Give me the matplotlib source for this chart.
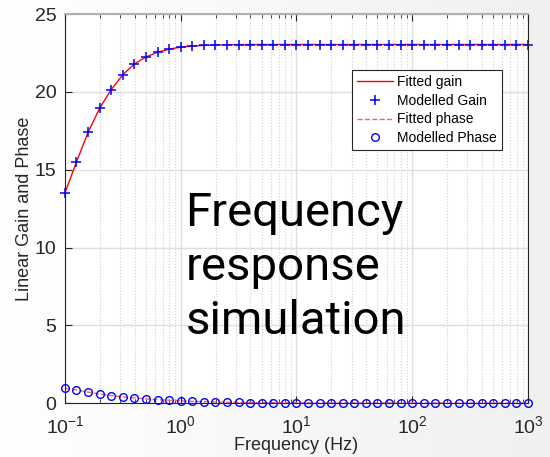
import matplotlib
matplotlib.use("Agg")
import matplotlib.pyplot as plt
import matplotlib.ticker as ticker
import numpy as np

# 41 frequencies, 10 per decade from 0.1 Hz to 1 kHz
freq = 10.0 ** (np.arange(-10, 31) / 10.0)

gain = [13.5, 15.5, 17.4, 18.95, 20.15, 21.1, 21.8, 22.25, 22.55, 22.75,
        22.88, 22.95, 22.99, 23.02, 23.03, 23.04, 23.05, 23.05, 23.05, 23.05,
        23.05, 23.05, 23.05, 23.05, 23.05, 23.05, 23.05, 23.05, 23.05, 23.05,
        23.05, 23.05, 23.05, 23.05, 23.05, 23.05, 23.05, 23.05, 23.05, 23.05,
        23.05]
phase = [0.95, 0.84, 0.70, 0.58, 0.48, 0.40, 0.33, 0.27, 0.22, 0.175,
         0.14, 0.11, 0.09, 0.07, 0.055, 0.045, 0.035, 0.028, 0.022, 0.018,
         0.014, 0.011, 0.009, 0.007, 0.0055, 0.0045, 0.0035, 0.003, 0.002, 0.0018,
         0.0014, 0.0011, 0.0009, 0.0007, 0.0006, 0.0005, 0.0004, 0.0003, 0.0002, 0.0002,
         0.0001]

plt.rcParams['font.family'] = ['Liberation Sans', 'DejaVu Sans']
plt.rcParams['mathtext.fontset'] = 'custom'
plt.rcParams['mathtext.rm'] = 'Liberation Sans'
plt.rcParams['mathtext.it'] = 'Liberation Sans'
plt.rcParams['mathtext.default'] = 'regular'

fig = plt.figure(figsize=(5.5, 4.57), dpi=100)

# light grey backdrop, white on the left fading to grey on the right
bg = fig.add_axes([0, 0, 1, 1], zorder=-10)
grad = np.linspace(0, 1, 256).reshape(1, -1)
bg.imshow(grad, aspect='auto', cmap=matplotlib.colors.LinearSegmentedColormap.from_list(
    'bg', ['#ffffff', '#f0f0f0']), extent=[0, 1, 0, 1])
bg.axis('off')

ax = fig.add_axes([0.118, 0.118, 0.842, 0.851])
ax.set_xscale('log')

ax.plot(freq, gain, '-', color='red', linewidth=1, label='Fitted gain')
ax.plot(freq, gain, '+', color='blue', markersize=7, markeredgewidth=1.1,
        label='Modelled Gain', clip_on=False)
ax.plot(freq, phase, '--', color='#ff6060', linewidth=1, label='Fitted phase')
ax.plot(freq, phase, 'o', color='blue', markerfacecolor='none', markersize=5.5,
        markeredgewidth=1, label='Modelled Phase', clip_on=False)

ax.set_xlim(0.1, 1000)
ax.set_ylim(0, 25)
ax.yaxis.set_major_locator(ticker.MultipleLocator(5))
ax.xaxis.set_major_locator(ticker.LogLocator(base=10, numticks=10))
ax.xaxis.set_minor_locator(ticker.LogLocator(base=10, subs=np.arange(2, 10), numticks=10))
ax.xaxis.set_minor_formatter(ticker.NullFormatter())

ax.grid(which='major', color='#dedede', linewidth=1)
ax.grid(which='minor', axis='x', color='#d0d0d0', linestyle=':', linewidth=0.8)
ax.set_axisbelow(True)

ax.tick_params(which='both', direction='in', top=True, right=False, colors='#262626',
               labelsize=14)
ax.tick_params(which='major', length=5)
ax.tick_params(which='minor', length=3)
ax.tick_params(axis='x', which='major', pad=9)
ax.tick_params(axis='y', which='major', pad=6)
for s in ['left', 'bottom', 'right']:
    ax.spines[s].set_color('#262626')
ax.spines['top'].set_color('#b0b0b0')
ax.spines['top'].set_linewidth(1.5)

ax.set_xlabel('Frequency (Hz)', fontsize=13, color='#262626', labelpad=0)
ax.set_ylabel('Linear Gain and Phase', fontsize=13, color='#262626', labelpad=1)

leg = ax.legend(loc='upper right', bbox_to_anchor=(0.944, 0.856), fontsize=10,
                fancybox=False, framealpha=1, edgecolor='#262626', borderaxespad=0,
                borderpad=0.35, labelspacing=0.34, handlelength=2.6, handletextpad=0.3)
leg.get_frame().set_linewidth(0.8)

ax.text(0.26, 0.545, 'Frequency\nresponse\nsimulation', transform=ax.transAxes,
        fontsize=34, family=['Roboto', 'DejaVu Sans'], fontweight='normal',
        ha='left', va='top', linespacing=1.29, color='black')

fig.savefig('out.png', dpi=100)
